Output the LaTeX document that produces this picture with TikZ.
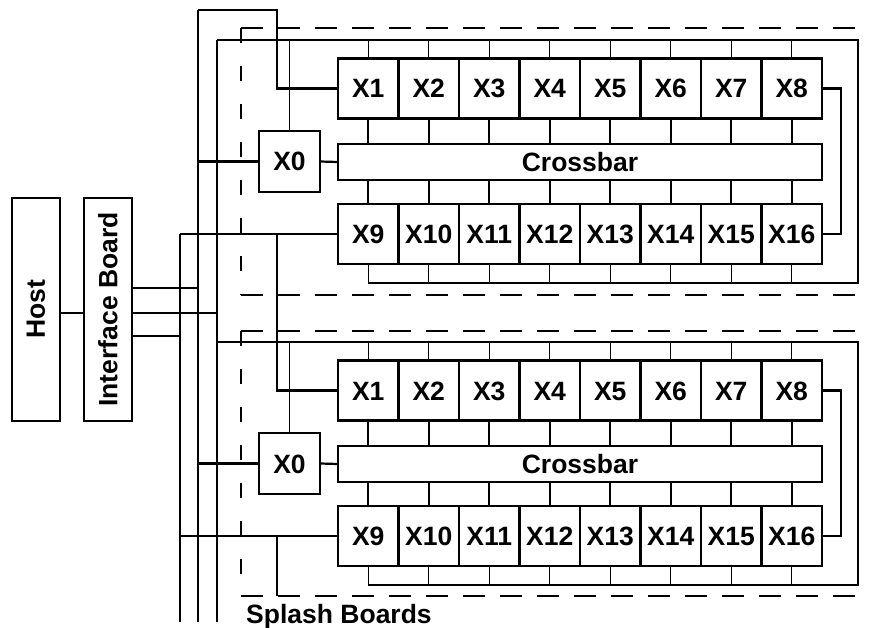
\documentclass[tikz,border=0pt]{standalone}
\usepackage{fontspec}
\usepackage{graphicx}
\setmainfont{Liberation Sans}

\begin{document}
\begin{tikzpicture}[
    x=1pt, y=-1pt,
    cell/.style={draw, line width=2.2pt, minimum width=60.5pt, minimum height=60pt,
                 inner sep=0pt, outer sep=0pt, text height=19pt, text depth=0pt,
                 font=\fontsize{26.5}{30}\selectfont\bfseries},
    unit/.style={draw, line width=1.2pt, minimum width=48pt, minimum height=223pt,
                 inner sep=0pt, outer sep=0pt, font=\fontsize{26.5}{30}\selectfont\bfseries},
    link/.style={line width=2.2pt},
    thinline/.style={line width=1.2pt},
    hdash/.style={line width=2.2pt, dash pattern=on 22pt off 15pt},
    vdash/.style={line width=2.2pt, dash pattern=on 15pt off 23pt}
]
\useasboundingbox (0,0) rectangle (870,628);

% Host and interface
\node[unit] (host) at (36,309.5) {\rotatebox{90}{Host}};
\node[unit] (ib) at (108,309.5) {\rotatebox{90}{Interface Board}};

% --- (a) upper splash board ---
\begin{scope}
\node[cell, minimum width=484pt, minimum height=36pt] (axb) at (580,162) {Crossbar};
\node[cell, minimum width=61pt, minimum height=61pt] (a0) at (289.5,161.5) {X0};
\coordinate (anw) at (217,40);
\coordinate (ane) at (858,40);
\coordinate (ase) at (858,283);

\foreach \i in {1,...,8} {
  \pgfmathtruncatemacro\j{\i+8}
  \node[cell] (a\i) at ({338+60.5*(\i-0.5)},88.5) {X\i};
  \node[cell] (a\j) at ({338+60.5*(\i-0.5)},234) {X\j};
  \draw[link] (a\i.south) -- (a\i.south |- axb.north);
  \draw[link] (a\j.north) -- (a\j.north |- axb.south);
  \draw[thinline] (a\i.north) -- (a\i.north |- anw);
  \draw[thinline] (a\j.south) -- (a\j.south |- ase);
}

\draw[thinline] (anw) -- (ane) -- (ase) -- (ase -| a9.south);
\draw[thinline] (a0.north) -- (a0.north |- anw);
\draw[link] (a0.east) -- (axb.west);
\draw[link] (a8.east) -- ++(19,0) |- (a16.east);
\draw[hdash] (241,28) -- (870,28);
\draw[hdash] (241,295) -- (870,295);
\draw[vdash] (241,28) -- (241,295);
\end{scope}

% --- (b) lower splash board ---
\begin{scope}[shift={(0,302)}]
\node[cell, minimum width=484pt, minimum height=36pt] (bxb) at (580,162) {Crossbar};
\node[cell, minimum width=61pt, minimum height=61pt] (b0) at (289.5,161.5) {X0};
\coordinate (bnw) at (217,40);
\coordinate (bne) at (858,40);
\coordinate (bse) at (858,283);

\foreach \i in {1,...,8} {
  \pgfmathtruncatemacro\j{\i+8}
  \node[cell] (b\i) at ({338+60.5*(\i-0.5)},88.5) {X\i};
  \node[cell] (b\j) at ({338+60.5*(\i-0.5)},234) {X\j};
  \draw[link] (b\i.south) -- (b\i.south |- bxb.north);
  \draw[link] (b\j.north) -- (b\j.north |- bxb.south);
  \draw[thinline] (b\i.north) -- (b\i.north |- bnw);
  \draw[thinline] (b\j.south) -- (b\j.south |- bse);
}

\draw[thinline] (bnw) -- (bne) -- (bse) -- (bse -| b9.south);
\draw[thinline] (b0.north) -- (b0.north |- bnw);
\draw[link] (b0.east) -- (bxb.west);
\draw[link] (b8.east) -- ++(19,0) |- (b16.east);
\draw[hdash] (241,29) -- (870,29);
\draw[hdash] (241,294) -- (870,294);
\draw[vdash] (241,29) -- (241,294);
\coordinate (tail) at (277,294);
\end{scope}

\node[anchor=base west, inner sep=0pt, font=\fontsize{26.5}{30}\selectfont\bfseries]
  (splash) at (246,623) {Splash Boards};

% Buses
\coordinate (busa) at (180,234);
\coordinate (busaend) at (180,622);
\coordinate (busb) at (198,10);
\coordinate (busbend) at (198,622);
\coordinate (busc) at (217,40);
\coordinate (buscend) at (217,622);
\coordinate (hop) at (277,10);

\draw[link] (busa) -- (busaend);
\draw[link] (busb) -- (busbend);
\draw[thinline] (busc) -- (buscend);

\draw[link] (host.east |- 0,313) -- (ib.west |- 0,313);
\draw[link] (ib.east |- 0,288) -- (busb |- 0,288);
\draw[thinline] (ib.east |- 0,313) -- (busc |- 0,313);
\draw[link] (ib.east |- 0,336) -- (busa |- 0,336);

\draw[link] (busb) -- (hop) |- (a1.west);
\draw[link] (busb |- a0.west) -- (a0.west);
\draw[link] (busb |- b0.west) -- (b0.west);
\draw[link] (busa) -- (a9.west);
\draw[link] (busa |- b9.west) -- (b9.west);
\draw[link] (hop |- a9.west) |- (b1.west);
\draw[link] (hop |- b9.west) -- (tail);

\end{tikzpicture}
\end{document}
